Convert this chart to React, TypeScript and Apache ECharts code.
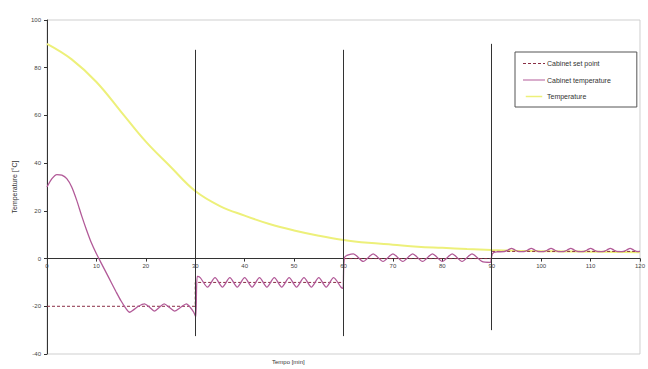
import React, { useEffect, useRef } from "react";
import * as echarts from "echarts";

const xTicks = [0, 10, 20, 30, 40, 50, 60, 70, 80, 90, 100, 110, 120];
const yTicks = [-40, -20, 0, 20, 40, 60, 80, 100];

const setPointTimes = [0, 30, 30, 60, 60, 90, 90, 120];
const setPointValues = [-20, -20, -10, -10, 0, 0, 3, 3];

const ambientTimes = [0, 5, 10, 15, 20, 25, 30, 35, 40, 45, 50, 55, 60, 65, 70, 75, 80, 85, 90, 95, 100, 105, 110, 115, 120];
const ambientValues = [90, 83.5, 74, 61.5, 49, 38.5, 28.3, 22, 18, 14.5, 11.8, 9.6, 7.8, 6.6, 5.8, 5.0, 4.5, 4.0, 3.6, 3.3, 3.1, 3.0, 2.9, 2.8, 2.7];

const cabinetTimes = [
  0, 1, 2, 3, 4, 5, 6, 7, 8, 9, 10, 11, 12, 13, 14, 15, 16, 16.7, 17.5, 18.5, 19.7, 20.8, 21.7, 22.7, 23.7, 24.8, 25.8, 27, 28.2, 29, 29.7, 30.1,
  30.4, 31, 32.5, 34, 35.5, 37, 38.5, 40, 41.5, 43, 44.5, 46, 47.5, 49, 50.5, 52, 53.5, 55, 56.5, 58, 59.5, 59.9,
  60.2, 62, 64, 66, 68, 70, 72, 74, 76, 78, 80, 82, 84, 86, 88, 89.7,
  90.1, 91, 92.5, 93.3, 94, 94.7, 95.5, 96.5, 97.3, 98, 98.7, 99.5, 100.5, 101.3, 102, 102.7, 103.5, 104.5, 105.3, 106, 106.7, 107.5, 108.5, 109.3, 110, 110.7, 111.5, 112.5, 113.3, 114, 114.7, 115.5, 116.5, 117.3, 118, 118.7, 119.5, 120,
];
const cabinetValues = [
  30, 33.5, 35.2, 35, 33.5, 30, 24.5, 18, 12, 6.5, 2, -2, -6, -10, -14, -17.8, -21, -22.5, -21.5, -20, -19, -20.5, -22, -20.5, -19, -20.5, -22, -20.5, -19, -20.5, -22.5, -24.5,
  -7.5, -8, -12, -8, -12, -8, -12, -8, -12, -8, -12, -8, -12, -8, -12, -8, -12, -8, -12, -8, -12, -12.5,
  0.5, 2, -1.2, 2, -1.2, 2, -1.2, 2, -1.2, 2, -1.2, 2, -1.2, 2, -1.2, -1.6,
  2, 2.8, 2.9, 3.6, 4.3, 3.6, 2.9, 2.9, 3.6, 4.3, 3.6, 2.9, 2.9, 3.6, 4.3, 3.6, 2.9, 2.9, 3.6, 4.3, 3.6, 2.9, 2.9, 3.6, 4.3, 3.6, 2.9, 2.9, 3.6, 4.3, 3.6, 2.9, 2.9, 3.6, 4.3, 3.6, 2.9, 3.0,
];

const dividerTimes = [30, 60, 90];
const dividerBottom = [-32.5, -32.5, -30];
const dividerTop = [87.5, 87.5, 90];

const names = ["Cabinet set point", "Cabinet temperature", "Temperature"];

const FONT = "'Liberation Sans', Arial, sans-serif";

const GRID_TOP = 20;
const GRID_BOTTOM = 15;
const H = 369;
const Y_MIN = -40;
const Y_MAX = 100;

const SET_COLOR = "#8a2f45";
const CAB_COLOR = "#b25a98";
const AMB_COLOR = "#edf07a";

const DASH_ICON = "path://M0,0h3v1h-3zM5,0h3v1h-3zM10,0h3v1h-3zM15,0h3v1h-3zM20,0h2v1h-2z";
const SOLID_ICON = "path://M0,0h22v1h-22z";
const THICK_ICON = "path://M0,0h22v2h-22z";

export default function App() {
  const ref = useRef<HTMLDivElement>(null);
  useEffect(() => {
    if (!ref.current) return;
    const chart = echarts.init(ref.current, null, { renderer: "svg" });
    const zip = (xs: number[], ys: number[]) => xs.map((x, i) => [x, ys[i]]);
    const plotH = H - GRID_TOP - GRID_BOTTOM;
    const zeroOffset = (plotH * (0 - Y_MIN)) / (Y_MAX - Y_MIN);
    chart.setOption({
      animation: false,
      backgroundColor: "#ffffff",
      textStyle: { fontFamily: FONT },
      grid: {
        left: 47,
        right: 3,
        top: GRID_TOP,
        bottom: GRID_BOTTOM,
        show: true,
        borderColor: "#cfcfcf",
        borderWidth: 1,
      },
      legend: {
        orient: "vertical",
        left: 515,
        top: 52,
        itemWidth: 22,
        itemHeight: 1.5,
        itemGap: 9.5,
        padding: [8, 26, 7, 8],
        borderColor: "#555",
        borderWidth: 1,
        backgroundColor: "#fff",
        textStyle: { fontSize: 7, color: "#333", fontFamily: FONT, padding: [0, 0, 0, -3] },
        data: [
          { name: names[0], icon: DASH_ICON, itemStyle: { color: SET_COLOR } },
          { name: names[1], icon: SOLID_ICON, itemStyle: { color: CAB_COLOR } },
          { name: names[2], icon: THICK_ICON, itemStyle: { color: AMB_COLOR } },
        ],
      },
      xAxis: {
        type: "value",
        min: 0,
        max: 120,
        interval: 10,
        position: "bottom",
        offset: -zeroOffset,
        axisLine: { onZero: false, lineStyle: { color: "#333", width: 1 } },
        axisTick: { show: true, length: 3, lineStyle: { color: "#333" } },
        axisLabel: {
          fontSize: 6,
          color: "#444",
          margin: 4,
          formatter: (v: number) => (xTicks.includes(v) ? String(v) : ""),
        },
        splitLine: { show: false },
      },
      yAxis: {
        type: "value",
        min: Y_MIN,
        max: Y_MAX,
        interval: 20,
        name: "Temperature [°C]",
        nameLocation: "middle",
        nameGap: 29,
        nameTextStyle: { fontSize: 7, color: "#333" },
        axisLine: { show: true, onZero: false, lineStyle: { color: "#333", width: 1 } },
        axisTick: { show: true, length: 3, lineStyle: { color: "#333" } },
        axisLabel: {
          fontSize: 6,
          color: "#444",
          margin: 6,
          formatter: (v: number) => (yTicks.includes(v) ? String(v) : ""),
        },
        splitLine: { show: false },
      },
      graphic: [
        {
          type: "text",
          left: 272,
          top: 359,
          style: { text: "Tempo [min]", fontSize: 6, fill: "#333", fontFamily: FONT },
        },
      ],
      series: [
        {
          name: names[0],
          type: "line",
          data: zip(setPointTimes, setPointValues),
          showSymbol: false,
          symbol: "none",
          lineStyle: { color: SET_COLOR, width: 1, type: [3, 2] },
          itemStyle: { color: SET_COLOR },
          z: 3,
        },
        {
          name: names[1],
          type: "line",
          data: zip(cabinetTimes, cabinetValues),
          showSymbol: false,
          symbol: "none",
          smooth: 0.25,
          lineStyle: { color: CAB_COLOR, width: 1.3 },
          itemStyle: { color: CAB_COLOR },
          z: 4,
          markLine: {
            silent: true,
            symbol: "none",
            label: { show: false },
            lineStyle: { color: "#333", width: 1, type: "solid" },
            data: dividerTimes.map((t, i) => [
              { coord: [t, dividerBottom[i]] },
              { coord: [t, dividerTop[i]] },
            ]),
          },
        },
        {
          name: names[2],
          type: "line",
          data: zip(ambientTimes, ambientValues),
          showSymbol: false,
          symbol: "none",
          smooth: 0.4,
          lineStyle: { color: AMB_COLOR, width: 2 },
          itemStyle: { color: AMB_COLOR },
          z: 2,
        },
      ],
    });
    return () => chart.dispose();
  }, []);
  return (
    <div
      ref={ref}
      style={{ position: "absolute", left: 0, top: 0, width: 648, height: 369 }}
    />
  );
}
